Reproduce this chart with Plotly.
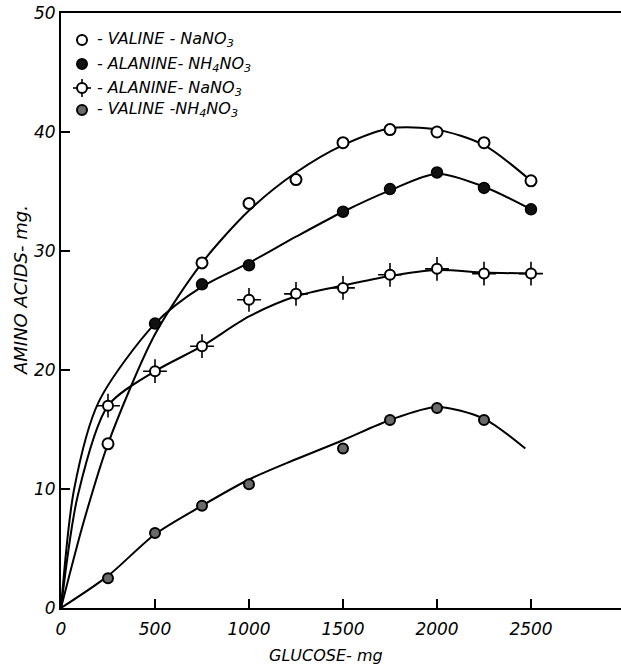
import plotly.graph_objects as go

valine_nano3_x = [250, 750, 1000, 1250, 1500, 1750, 2000, 2250, 2500]
valine_nano3_y = [13.8, 29.0, 34.0, 36.0, 39.1, 40.2, 40.0, 39.1, 35.9]

alanine_nh4no3_x = [500, 750, 1000, 1500, 1750, 2000, 2250, 2500]
alanine_nh4no3_y = [23.9, 27.2, 28.8, 33.3, 35.2, 36.6, 35.3, 33.5]

alanine_nano3_x = [250, 500, 750, 1000, 1250, 1500, 1750, 2000, 2250, 2500]
alanine_nano3_y = [17.0, 19.9, 22.0, 25.9, 26.4, 26.9, 28.0, 28.5, 28.1, 28.1]

valine_nh4no3_x = [250, 500, 750, 1000, 1500, 1750, 2000, 2250]
valine_nh4no3_y = [2.5, 6.3, 8.6, 10.4, 13.4, 15.8, 16.8, 15.8]

# ---- hand-drawn fitted curves ----
valine_nano3_curve_x = [0, 120, 250, 500, 750, 1000, 1250, 1500, 1750, 2000, 2250, 2500]
valine_nano3_curve_y = [0, 7.2, 13.8, 23.0, 29.0, 33.4, 36.6, 38.9, 40.3, 40.2, 38.9, 35.9]

alanine_nh4no3_curve_x = [0, 70, 200, 500, 750, 1000, 1250, 1500, 1750, 2000, 2250, 2500]
alanine_nh4no3_curve_y = [0, 10.0, 17.3, 23.9, 27.0, 29.0, 31.2, 33.3, 35.1, 36.5, 35.4, 33.5]

alanine_nano3_curve_x = [0, 90, 250, 500, 750, 1000, 1250, 1500, 1750, 2000, 2250, 2500]
alanine_nano3_curve_y = [0, 9.5, 17.0, 19.9, 22.0, 24.5, 26.2, 27.1, 27.9, 28.4, 28.2, 28.1]

valine_nh4no3_curve_x = [0, 250, 500, 750, 1000, 1250, 1500, 1750, 2000, 2250, 2470]
valine_nh4no3_curve_y = [0, 2.7, 6.2, 8.6, 10.8, 12.5, 14.1, 15.8, 16.9, 15.9, 13.4]

x_ticks = [0, 500, 1000, 1500, 2000, 2500]
y_ticks = [0, 10, 20, 30, 40, 50]

legend_labels = [
    "- VALINE - NaNO<sub>3</sub>",
    "- ALANINE- NH<sub>4</sub>NO<sub>3</sub>",
    "- ALANINE- NaNO<sub>3</sub>",
    "- VALINE -NH<sub>4</sub>NO<sub>3</sub>",
]

FONT = "DejaVu Sans"
fig = go.Figure()

line_style = dict(color="black", width=2, shape="spline", smoothing=0.8)
for cx, cy in [
    (valine_nano3_curve_x, valine_nano3_curve_y),
    (alanine_nh4no3_curve_x, alanine_nh4no3_curve_y),
    (alanine_nano3_curve_x, alanine_nano3_curve_y),
    (valine_nh4no3_curve_x, valine_nh4no3_curve_y),
]:
    fig.add_trace(go.Scatter(x=cx, y=cy, mode="lines", line=line_style,
                             showlegend=False, hoverinfo="skip"))

# markers
fig.add_trace(go.Scatter(x=valine_nano3_x, y=valine_nano3_y, mode="markers",
                         marker=dict(symbol="circle", size=11, color="white",
                                     line=dict(color="black", width=2)),
                         showlegend=False))
fig.add_trace(go.Scatter(x=alanine_nh4no3_x, y=alanine_nh4no3_y, mode="markers",
                         marker=dict(symbol="circle", size=11, color="#111111",
                                     line=dict(color="black", width=1.5)),
                         showlegend=False))
fig.add_trace(go.Scatter(x=alanine_nano3_x, y=alanine_nano3_y, mode="markers",
                         marker=dict(symbol="cross-thin", size=17,
                                     line=dict(color="black", width=1.6)),
                         showlegend=False))
fig.add_trace(go.Scatter(x=alanine_nano3_x, y=alanine_nano3_y, mode="markers",
                         marker=dict(symbol="circle", size=10, color="white",
                                     line=dict(color="black", width=2)),
                         showlegend=False))
fig.add_trace(go.Scatter(x=valine_nh4no3_x, y=valine_nh4no3_y, mode="markers",
                         marker=dict(symbol="circle", size=10, color="#6a6a6a",
                                     line=dict(color="black", width=2)),
                         showlegend=False))

# ---- hand-made legend (icons + texts) ----
L, T, B, W = 61, 13, 62, 621
H = 670
pw, ph = W - L, H - T - B
rows_px = [40, 64, 88, 110]
icon_x = (82 - L) / pw
text_x = (95 - L) / pw
icon_styles = [
    dict(fill="white"), dict(fill="#111111"), dict(fill="white", spikes=True), dict(fill="#6a6a6a"),
]
for r, lab, st in zip(rows_px, legend_labels, icon_styles):
    yp = (H - B - r) / ph
    if st.get("spikes"):
        for dx0, dy0, dx1, dy1 in [(-9, 0, 9, 0), (0, -9, 0, 9)]:
            fig.add_shape(type="line", xref="paper", yref="paper",
                          xsizemode="pixel", ysizemode="pixel", xanchor=icon_x, yanchor=yp,
                          x0=dx0, x1=dx1, y0=dy0, y1=dy1, line=dict(color="black", width=1.6))
    fig.add_shape(type="circle", xref="paper", yref="paper",
                  xsizemode="pixel", ysizemode="pixel", xanchor=icon_x, yanchor=yp,
                  x0=-5, x1=5, y0=-5, y1=5, fillcolor=st["fill"],
                  line=dict(color="black", width=2))
    fig.add_annotation(text=lab, xref="paper", yref="paper", x=text_x, y=yp,
                       xanchor="left", yanchor="middle", showarrow=False,
                       font=dict(family=FONT, size=16, color="black", style="italic"))

# axis titles
fig.add_annotation(text="GLUCOSE- mg", xref="paper", yref="paper",
                   x=(326 - L) / pw, y=0, yshift=-47, xanchor="center", yanchor="middle",
                   showarrow=False, font=dict(family=FONT, size=16, color="black", style="italic"))
fig.add_annotation(text="AMINO ACIDS- mg.", xref="paper", yref="paper",
                   x=(20 - L) / pw, y=(H - B - 290) / ph, textangle=-90,
                   xanchor="center", yanchor="middle", showarrow=False,
                   font=dict(family=FONT, size=18, color="black", style="italic"))

fig.update_layout(
    width=W, height=H,
    margin=dict(l=L, r=W - L - pw, t=T, b=B, pad=0, autoexpand=False),
    paper_bgcolor="white", plot_bgcolor="white",
    showlegend=False,
    font=dict(family=FONT, color="black"),
)
fig.update_xaxes(range=[0, pw / 0.188], tickvals=x_ticks, ticktext=[str(v) for v in x_ticks],
                 ticks="inside", ticklen=9, tickwidth=2, tickcolor="black",
                 showline=True, linewidth=2, linecolor="black", mirror=True,
                 showgrid=False, zeroline=False, automargin=False, ticklabelstandoff=5,
                 tickfont=dict(family=FONT, size=17, color="black", style="italic"))
fig.update_yaxes(range=[0, 50], tickvals=y_ticks, ticktext=[str(v) for v in y_ticks],
                 ticks="inside", ticklen=9, tickwidth=2, tickcolor="black",
                 showline=True, linewidth=2, linecolor="black", mirror=False,
                 showgrid=False, zeroline=False, automargin=False,
                 tickfont=dict(family=FONT, size=17, color="black", style="italic"))

fig.write_html("out.html", config={"displayModeBar": False},
               post_script="document.body.style.margin='0';document.body.style.overflow='hidden';")
